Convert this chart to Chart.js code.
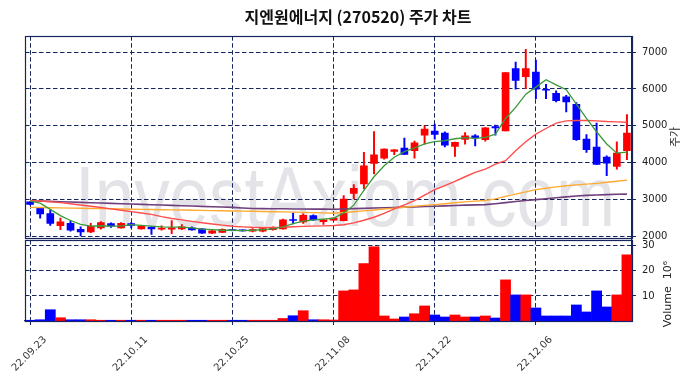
<!DOCTYPE html>
<html>
<head>
<meta charset="utf-8">
<script src="https://cdn.jsdelivr.net/npm/chart.js@4/dist/chart.umd.min.js"></script>
<style>
  body { margin: 0; background: #fff; }
  #wrap { position: relative; width: 691px; height: 378px; }
  #price { position: absolute; left: 0; top: 0; }
  #volume { position: absolute; left: 0; top: 238px; }
</style>
</head>
<body>
<div id="wrap">
  <canvas id="price" width="691" height="240"></canvas>
  <canvas id="volume" width="691" height="140"></canvas>
</div>
<script>
var dates = ['22.09.23','22.09.26','22.09.27','22.09.28','22.09.29','22.09.30','22.10.04','22.10.05','22.10.06','22.10.07',
  '22.10.11','22.10.12','22.10.13','22.10.14','22.10.17','22.10.18','22.10.19','22.10.20','22.10.21','22.10.24',
  '22.10.25','22.10.26','22.10.27','22.10.28','22.10.31','22.11.01','22.11.02','22.11.03','22.11.04','22.11.07',
  '22.11.08','22.11.09','22.11.10','22.11.11','22.11.14','22.11.15','22.11.16','22.11.17','22.11.18','22.11.21',
  '22.11.22','22.11.23','22.11.24','22.11.25','22.11.28','22.11.29','22.11.30','22.12.01','22.12.02','22.12.05',
  '22.12.06','22.12.07','22.12.08','22.12.09','22.12.12','22.12.13','22.12.14','22.12.15','22.12.16','22.12.19'];

var opens = [2943,2764,2623,2292,2358,2198,2123,2236,2349,2236,
  2349,2208,2255,2198,2198,2208,2236,2208,2094,2113,
  2170,2170,2142,2142,2189,2208,2462,2396,2566,2406,
  2440,2432,3171,3423,3982,4126,4306,4396,4324,4748,
  4856,4802,4441,4630,4730,4622,4982,4865,6550,6333,
  6459,5991,5883,5784,5586,4640,4423,4153,3901,4324];
var highs = [2950,2780,2717,2500,2434,2264,2358,2406,2368,2377,
  2377,2302,2264,2292,2434,2321,2264,2217,2189,2208,
  2179,2179,2217,2236,2264,2472,2642,2613,2585,2472,
  2510,3108,3405,4279,4847,4380,4360,4667,4585,5000,
  5045,4838,4560,4820,4766,4950,5018,6441,6730,7072,
  6784,6126,5946,5829,5631,4766,5072,4189,4568,5306];
var lows = [2860,2500,2302,2189,2142,2019,2104,2198,2245,2226,
  2236,2198,2057,2170,2075,2189,2170,2085,2075,2104,
  2151,2142,2123,2123,2170,2198,2340,2358,2434,2330,
  2430,2420,3018,3288,3694,4100,4216,4225,4126,4504,
  4640,4432,4171,4504,4459,4586,4748,4865,5991,6009,
  5739,5739,5649,5378,4604,4279,3955,3649,3829,4081];
var closes = [2868,2613,2358,2396,2170,2123,2274,2377,2283,2358,
  2302,2292,2208,2226,2236,2264,2179,2094,2151,2198,
  2160,2151,2189,2217,2236,2453,2434,2575,2453,2453,
  2500,3018,3306,3919,4216,4369,4351,4225,4540,4910,
  4766,4477,4550,4730,4676,4946,4946,6441,6234,6550,
  5991,5964,5685,5649,4622,4351,3955,3991,4261,4802];
var volumes = [300000,500000,4500000,1300000,500000,500000,500000,300000,300000,300000,
  300000,300000,300000,300000,300000,300000,300000,300000,300000,300000,
  300000,300000,300000,300000,300000,1000000,2100000,4100000,500000,500000,
  400000,12000000,12400000,22900000,29600000,2000000,800000,1600000,2900000,6000000,
  2400000,1600000,2400000,1600000,1600000,2000000,1200000,16400000,10400000,10400000,
  5200000,2000000,2000000,2000000,6400000,3600000,12000000,5600000,10400000,26400000];

// moving averages
var ma5 = [2962,2906,2736,2566,2434,2330,2283,2292,2283,2283,
  2321,2302,2283,2264,2255,2255,2236,2198,2189,2170,
  2170,2160,2170,2189,2208,2264,2349,2415,2453,2472,
  2495,2640,2850,3250,3620,3920,4150,4300,4400,4510,
  4570,4600,4650,4680,4660,4685,4775,5200,5500,5860,
  6050,6250,6110,5980,5586,5200,4840,4510,4260,4290];
var ma20 = [2981,2962,2943,2920,2890,2855,2820,2785,2750,2712,
  2675,2637,2600,2540,2490,2450,2410,2375,2340,2310,
  2280,2262,2250,2245,2245,2250,2264,2274,2283,2290,
  2300,2320,2369,2440,2523,2630,2748,2860,2973,3120,
  3270,3380,3495,3620,3739,3829,3964,4054,4324,4568,
  4775,4928,5072,5135,5144,5144,5135,5117,5108,5099];
var ma60 = [2790,2786,2781,2776,2771,2766,2761,2756,2751,2746,
  2741,2736,2731,2726,2722,2718,2713,2708,2703,2698,
  2693,2689,2685,2679,2673,2667,2661,2655,2648,2640,
  2630,2650,2670,2695,2720,2745,2770,2795,2820,2845,
  2865,2890,2915,2940,2960,2975,3020,3090,3150,3210,
  3270,3310,3345,3378,3400,3420,3441,3470,3500,3530];
var ma120 = [2970,2961,2952,2943,2934,2925,2916,2907,2898,2889,
  2880,2871,2862,2853,2844,2835,2826,2817,2808,2799,
  2790,2775,2760,2757,2754,2751,2748,2746,2744,2742,
  2740,2748,2756,2764,2772,2780,2788,2796,2804,2812,
  2820,2830,2840,2850,2858,2865,2890,2920,2950,2975,
  3000,3025,3050,3075,3100,3115,3125,3135,3145,3150];

var priceTicks = [2000, 3000, 4000, 5000, 6000, 7000];
var volumeTicks = [10000000, 20000000, 30000000];

var gridColor = '#15265e';
var tickFont = {family: 'DejaVu Sans', size: 10};
var upColor = '#ff0000';
var downColor = '#0000ff';
var candleColors = closes.map(function(c, i) { return c >= opens[i] ? upColor : downColor; });

function everyTen(ctx) {
  return ctx.index % 10 === 0 ? gridColor : 'rgba(0,0,0,0)';
}

var frame = {
  id: 'frame',
  afterDraw: function(chart) {
    var a = chart.chartArea, c = chart.ctx;
    c.save();
    c.strokeStyle = gridColor;
    c.lineWidth = 1.2;
    c.strokeRect(Math.round(a.left) + 0.5, Math.round(a.top) + 0.5, Math.round(a.right - a.left), Math.round(a.bottom - a.top));
    c.restore();
  }
};

function sideTitle(text, x, y) {
  return {
    id: 'sideTitle',
    afterDraw: function(chart) {
      var c = chart.ctx;
      c.save();
      c.translate(x, y);
      c.rotate(-Math.PI / 2);
      c.font = '11px "DejaVu Sans", "Noto Sans CJK KR"';
      c.fillStyle = '#222';
      c.textAlign = 'center';
      c.textBaseline = 'middle';
      c.fillText(text, 0, 0);
      c.restore();
    }
  };
}

var watermark = {
  id: 'watermark',
  beforeDraw: function(chart) {
    var c = chart.ctx;
    c.save();
    c.font = '86px "Liberation Sans"';
    c.fillStyle = '#e4e4e8';
    c.textAlign = 'center';
    c.textBaseline = 'alphabetic';
    c.fillText('InvestAxiom.com', 345, 226, 540);
    c.restore();
  }
};

function noPad(s) { s.paddingTop = 0; s.paddingBottom = 0; s.paddingLeft = 0; s.paddingRight = 0; }

var priceChart = new Chart(document.getElementById('price'), {
  type: 'bar',
  data: {
    labels: dates,
    datasets: [
      {type: 'line', data: ma5, borderColor: '#3a9a3a', borderWidth: 1.3, pointRadius: 0, order: 0},
      {type: 'line', data: ma20, borderColor: '#ff4d4d', borderWidth: 1.4, pointRadius: 0, order: 0},
      {type: 'line', data: ma60, borderColor: '#ffaa30', borderWidth: 1.4, pointRadius: 0, order: 0},
      {type: 'line', data: ma120, borderColor: '#6e3f7c', borderWidth: 1.6, pointRadius: 0, order: 0},
      {data: opens.map(function(o, i) { return [o, closes[i]]; }), backgroundColor: candleColors,
        barThickness: 7, minBarLength: 1, grouped: false, order: 1},
      {data: lows.map(function(l, i) { return [l, highs[i]]; }), backgroundColor: candleColors,
        barThickness: 1.3, grouped: false, order: 2}
    ]
  },
  options: {
    responsive: false,
    animation: false,
    events: [],
    layout: {padding: {left: 25, right: 0, top: 0, bottom: 2}},
    plugins: {
      legend: {display: false},
      tooltip: {enabled: false},
      title: {
        display: true,
        text: '지엔원에너지 (270520) 주가 차트',
        color: '#111',
        font: {family: 'Noto Sans CJK KR', size: 16, weight: 'bold'},
        padding: {top: 7, bottom: 10}
      }
    },
    scales: {
      x: {
        offset: true,
        grid: {offset: false, color: everyTen, drawTicks: false},
        border: {display: false, dash: [4.5, 2.5]},
        ticks: {display: false, autoSkip: false},
        afterFit: function(s) { s.height = 0; noPad(s); }
      },
      y: {
        position: 'right',
        min: 1960,
        max: 7430,
        afterBuildTicks: function(s) { s.ticks = priceTicks.map(function(v) { return {value: v}; }); },
        afterFit: function(s) { s.width = 59; noPad(s); },
        grid: {color: gridColor, tickLength: 4, tickColor: gridColor},
        border: {color: gridColor, width: 1.2, dash: [4.5, 2.5]},
        ticks: {font: tickFont, color: '#222', padding: 6,
          callback: function(v) { return String(v); }}
      }
    }
  },
  plugins: [watermark, frame, sideTitle('주가', 676, 137)]
});

var volumeChart = new Chart(document.getElementById('volume'), {
  type: 'bar',
  data: {
    labels: dates,
    datasets: [
      {data: volumes, backgroundColor: candleColors, barPercentage: 1, categoryPercentage: 1}
    ]
  },
  options: {
    responsive: false,
    animation: false,
    events: [],
    layout: {padding: {left: 25, right: 0, top: 2, bottom: 0}},
    plugins: {legend: {display: false}, tooltip: {enabled: false}},
    scales: {
      x: {
        offset: true,
        grid: {offset: false, color: everyTen, tickColor: everyTen, tickLength: 4},
        border: {color: gridColor, width: 1.2, dash: [4.5, 2.5]},
        ticks: {
          autoSkip: false, minRotation: 45, maxRotation: 45, padding: 9, labelOffset: 15,
          font: tickFont, color: '#333',
          callback: function(v, i) { return i % 10 === 0 ? dates[i] : ''; }
        },
        afterFit: function(s) { s.height = 57; noPad(s); }
      },
      y: {
        position: 'right',
        min: 0,
        max: 32300000,
        afterBuildTicks: function(s) { s.ticks = volumeTicks.map(function(v) { return {value: v}; }); },
        afterFit: function(s) { s.width = 59; noPad(s); },
        grid: {color: gridColor, tickLength: 4, tickColor: gridColor},
        border: {color: gridColor, width: 1.2, dash: [4.5, 2.5]},
        ticks: {font: tickFont, color: '#222', padding: 6,
          callback: function(v) { return v / 1000000; }}
      }
    }
  },
  plugins: [frame, sideTitle('Volume  10\u2076', 668, 56)]
});
</script>
</body>
</html>
